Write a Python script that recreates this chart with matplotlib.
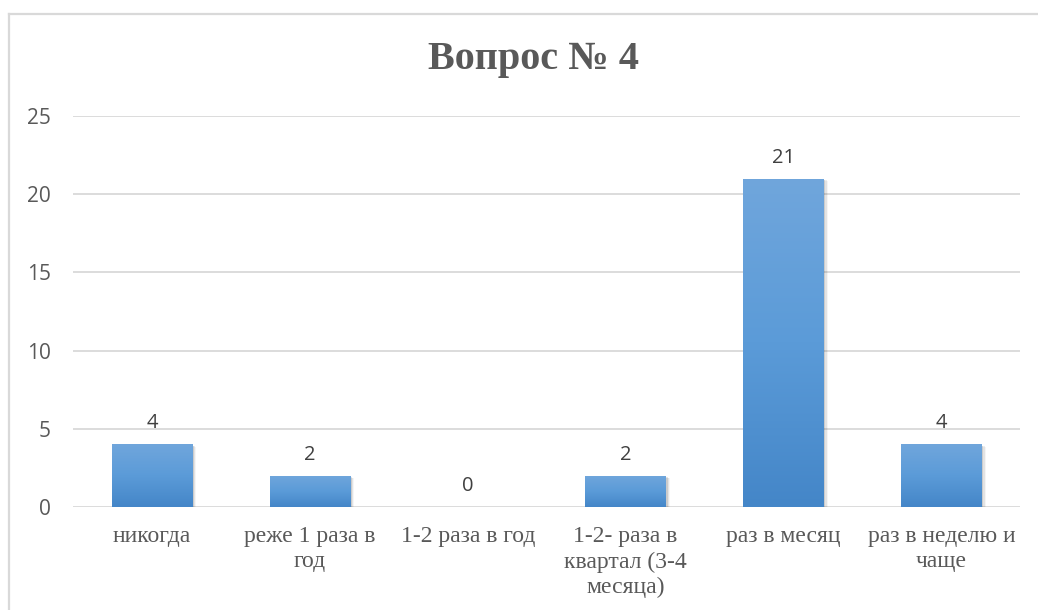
import numpy as np
import matplotlib
matplotlib.use("Agg")
import matplotlib.pyplot as plt
from matplotlib.patches import Rectangle
from matplotlib.colors import LinearSegmentedColormap

categories = ["никогда", "реже 1 раза в\nгод", "1-2 раза в год",
              "1-2- раза в\nквартал (3-4\nмесяца)", "раз в месяц",
              "раз в неделю и\nчаще"]
values = [4, 2, 0, 2, 21, 4]
yticks = [0, 5, 10, 15, 20, 25]
title = "Вопрос № 4"

fig = plt.figure(figsize=(10.38, 6.10), dpi=100)
ax = fig.add_axes([0.0703, 0.1689, 0.9127, 0.6409])

# outer chart frame (top and left edges visible)
fig.add_artist(plt.Line2D([9 / 1038, 9 / 1038], [0, 1 - 14 / 610],
                          color="#d9d9d9", lw=1.6, transform=fig.transFigure))
fig.add_artist(plt.Line2D([9 / 1038, 1.0], [1 - 14 / 610, 1 - 14 / 610],
                          color="#d9d9d9", lw=1.6, transform=fig.transFigure))

x = np.arange(len(categories))
width = 0.51
cmap = LinearSegmentedColormap.from_list("bar", ["#4486c8", "#5b9bd8", "#70a6dc"])
grad = np.linspace(0, 1, 256).reshape(-1, 1)

for xi, v in zip(x, values):
    if v <= 0:
        continue
    # soft shadow behind the bar
    for k, a in enumerate([0.10, 0.07, 0.04]):
        off = 0.012 + k * 0.008
        ax.add_patch(Rectangle((xi - width / 2 + off * 0.3, -0.12 - k * 0.05),
                               width + off * 0.6, v + 0.05, facecolor="#000000",
                               alpha=a, lw=0, zorder=2))
    rect = Rectangle((xi - width / 2, 0), width, v, facecolor="none", lw=0, zorder=3)
    ax.add_patch(rect)
    im = ax.imshow(grad, cmap=cmap, aspect="auto", origin="lower",
                   extent=(xi - width / 2, xi + width / 2, 0, v), zorder=3,
                   interpolation="bilinear")
    im.set_clip_path(rect)

for xi, v in zip(x, values):
    ax.text(xi, v + 0.7, str(v), ha="center", va="bottom", fontsize=14.5,
            color="#404040", family="Open Sans")

ax.set_xlim(-0.5, len(categories) - 0.5)
ax.set_ylim(0, 25)
ax.set_yticks(yticks)
ax.set_yticklabels([str(t) for t in yticks], fontsize=15, color="#595959",
                   family="Open Sans")
ax.set_xticks(x)
ax.set_xticklabels(categories, fontsize=17, color="#595959",
                   family=["Liberation Serif", "DejaVu Serif"], linespacing=1.25)
ax.tick_params(axis="both", length=0)
ax.tick_params(axis="y", pad=16)
ax.tick_params(axis="x", pad=14)
for s in ax.spines.values():
    s.set_visible(False)
ax.grid(axis="y", color="#d9d9d9", lw=1.3)
ax.set_axisbelow(True)

fig.text(0.514, 1 - 60 / 610, title, ha="center", va="center", fontsize=29,
         fontweight="bold", color="#595959", family="Liberation Serif")

fig.savefig("out.png", dpi=100)
